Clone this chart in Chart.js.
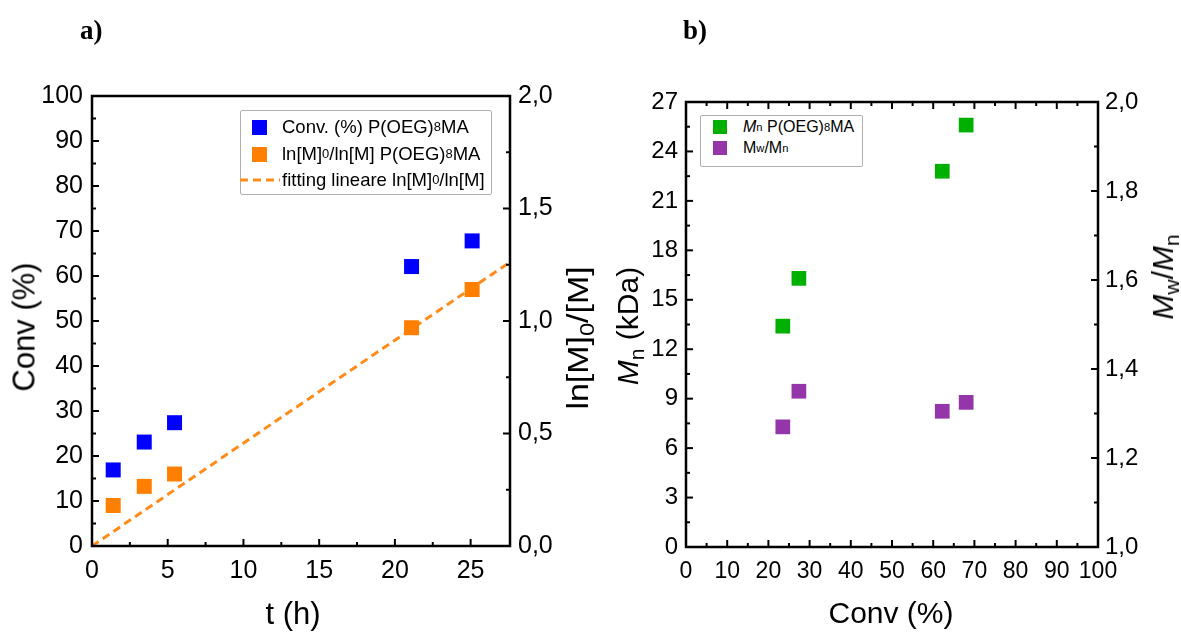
<!DOCTYPE html>
<html><head><meta charset="utf-8">
<script src="https://cdn.jsdelivr.net/npm/chart.js@4.4.0/dist/chart.umd.min.js"></script>
<style>
body{margin:0;background:#fff;width:1181px;height:634px;overflow:hidden;position:relative;font-family:"Liberation Sans",Arial,sans-serif;color:#000}
canvas{position:absolute;top:0}
.t{position:absolute;white-space:nowrap;line-height:1}
.rot{transform:translate(-50%,-50%) rotate(-90deg)}
.hc{transform:translate(-50%,-50%)}
sub{font-size:70%;vertical-align:-0.28em;line-height:0}
.panel{position:absolute;font-family:"Liberation Serif","Times New Roman",serif;font-weight:bold;font-size:27px;line-height:1}
.leg{position:absolute;border:1px solid #b0b0b0;border-radius:2px;background:#fff}
.row{position:absolute;display:flex;align-items:center;white-space:nowrap}
.mk{display:inline-block}
</style>
</head><body>
<canvas id="ca" width="590" height="634" style="left:0"></canvas>
<canvas id="cb" width="591" height="634" style="left:590px"></canvas>

<div class="panel" style="left:80px;top:17px">a)</div>
<div class="panel" style="left:683px;top:17px">b)</div>

<div class="t rot" style="left:24px;top:327px;font-size:31px">Conv (%)</div>
<div class="t hc" style="left:293px;top:613px;font-size:31px">t (h)</div>
<div class="t" style="left:578px;top:338px;font-size:30px;transform:translate(-50%,-50%) rotate(-90deg) scaleX(1.13)">ln[M]<sub>0</sub>/[M]</div>

<div class="t rot" style="left:628px;top:326px;font-size:30px"><i>M</i><sub>n</sub> (kDa)</div>
<div class="t hc" style="left:891px;top:613px;font-size:30px">Conv (%)</div>
<div class="t rot" style="left:1163px;top:277px;font-size:30px"><i>M</i><sub>w</sub>/<i>M</i><sub>n</sub></div>

<div class="leg" style="left:240px;top:110px;width:250px;height:83px"></div>
<div class="row" style="left:252px;top:117px;height:20px;font-size:18.5px"><span class="mk" style="width:15px;height:15px;background:#0000ff;margin-right:15px"></span>Conv. (%) P(OEG)<sub>8</sub>MA</div>
<div class="row" style="left:252px;top:144px;height:20px;font-size:18.5px"><span class="mk" style="width:15px;height:15px;background:#ff7f00;margin-right:15px"></span>ln[M]<sub>0</sub>/ln[M] P(OEG)<sub>8</sub>MA</div>
<div class="row" style="left:240px;top:170px;height:20px;font-size:18.5px"><svg width="42" height="6" style="margin-right:0px"><line x1="0" y1="3" x2="40" y2="3" stroke="#ff8c1a" stroke-width="3" stroke-dasharray="8,5"/></svg>fitting lineare ln[M]<sub>0</sub>/ln[M]</div>

<div class="leg" style="left:700px;top:115px;width:161px;height:50px"></div>
<div class="row" style="left:713px;top:117px;height:20px;font-size:16px"><span class="mk" style="width:14px;height:14px;background:#00b000;margin-right:16px"></span><i>M</i><sub>n</sub>&nbsp;P(OEG)<sub>8</sub>MA</div>
<div class="row" style="left:713px;top:138px;height:20px;font-size:16px"><span class="mk" style="width:14px;height:14px;background:#9436aa;margin-right:16px"></span>M<sub>w</sub>/M<sub>n</sub></div>

<script>
// ---- data panel a ----
const tHours   = [1.4, 3.45, 5.45, 21.1, 25.1];
const convA    = [16.9, 23.1, 27.4, 62.1, 67.8];
const lnRatio  = [0.18, 0.265, 0.32, 0.97, 1.14];
const fitT     = [0, 27.6];
const fitLn    = [0, 1.262];
// ---- data panel b ----
const convB      = [23.5, 27.4, 62.2, 68.0];
const mnKDa      = [13.4, 16.3, 22.8, 25.6];
const dispersity = [1.27, 1.35, 1.305, 1.325];
// ---- tick labels ----
const xTicksA  = [0, 5, 10, 15, 20, 25];
const yTicksA  = [0, 10, 20, 30, 40, 50, 60, 70, 80, 90, 100];
const y2TicksA = [0, 0.5, 1.0, 1.5, 2.0];
const xTicksB  = [0, 10, 20, 30, 40, 50, 60, 70, 80, 90, 100];
const yTicksB  = [0, 3, 6, 9, 12, 15, 18, 21, 24, 27];
const y2TicksB = [1.0, 1.2, 1.4, 1.6, 1.8, 2.0];

const mids = a => a.slice(1).map((v,i)=>(v+a[i])/2);
const comma = v => Number(v).toFixed(1).replace('.', ',');
const pts = (xs, ys) => xs.map((x,i)=>({x, y: ys[i]}));

const boxTicks = {
  id: 'boxTicks',
  afterDatasetsDraw(chart, args, o) {
    const ctx = chart.ctx, a = chart.chartArea;
    ctx.save();
    ctx.strokeStyle = '#000';
    ctx.lineWidth = 2;
    const tick = (id, v, len, side) => {
      const s = chart.scales[id];
      const p = s.getPixelForValue(v);
      ctx.beginPath();
      if (side === 'bottom') { ctx.moveTo(p, a.bottom); ctx.lineTo(p, a.bottom - len); }
      if (side === 'top')    { ctx.moveTo(p, a.top); ctx.lineTo(p, a.top + len); }
      if (side === 'left')   { ctx.moveTo(a.left, p); ctx.lineTo(a.left + len, p); }
      if (side === 'right')  { ctx.moveTo(a.right, p); ctx.lineTo(a.right - len, p); }
      ctx.stroke();
    };
    o.axes.forEach(ax => {
      ax.major.forEach(v => tick(ax.id, v, 7, ax.side));
      ax.minor.forEach(v => tick(ax.id, v, 4, ax.side));
    });
    ctx.lineWidth = 2.5;
    ctx.strokeRect(a.left, a.top, a.right - a.left, a.bottom - a.top);
    ctx.restore();
  }
};

const font = size => ({family: '"Liberation Sans", Arial, sans-serif', size});
function axis(pos, min, max, ticksArr, size, fit, fmt, pad) {
  return {
    type: 'linear', position: pos, min, max,
    afterBuildTicks: s => { s.ticks = ticksArr.map(v => ({value: v})); },
    afterFit: s => { if (pos === 'bottom') s.height = fit; else s.width = fit; },
    grid: {display: false, drawTicks: false},
    border: {display: false},
    ticks: {color: '#000', font: font(size), padding: pad, maxRotation: 0, autoSkip: false,
            callback: fmt || (v => String(v))}
  };
}
const baseOpts = {
  responsive: false, animation: false, events: [],
  plugins: {legend: {display: false}, tooltip: {enabled: false}},
};

new Chart(document.getElementById('ca'), {
  type: 'scatter',
  data: {datasets: [
    {data: pts(tHours, convA), yAxisID: 'y', pointStyle: 'rect', pointRadius: 10.6, backgroundColor: '#0000ff', borderWidth: 0},
    {data: pts(tHours, lnRatio), yAxisID: 'y2', pointStyle: 'rect', pointRadius: 10.6, backgroundColor: '#ff7f00', borderWidth: 0},
    {data: pts(fitT, fitLn), yAxisID: 'y2', showLine: true, pointRadius: 0, borderColor: '#ff8c1a', borderWidth: 3, borderDash: [8, 5]}
  ]},
  options: Object.assign({}, baseOpts, {
    layout: {padding: {top: 96, left: 0, right: 0, bottom: 0}, autoPadding: false},
    scales: {
      x: axis('bottom', 0, 27.6, xTicksA, 25, 88, null, 10),
      y: axis('left', 0, 100, yTicksA, 25, 92, null, 9),
      y2: axis('right', 0, 2, y2TicksA, 25, 80, comma, 8)
    },
    plugins: Object.assign({}, baseOpts.plugins, {boxTicks: {axes: [
      {id: 'x', side: 'bottom', major: xTicksA, minor: mids(xTicksA)},
      {id: 'y', side: 'left', major: yTicksA, minor: mids(yTicksA)},
      {id: 'y2', side: 'right', major: y2TicksA, minor: mids(y2TicksA)}
    ]}})
  }),
  plugins: [boxTicks]
});

new Chart(document.getElementById('cb'), {
  type: 'scatter',
  data: {datasets: [
    {data: pts(convB, mnKDa), yAxisID: 'y', pointStyle: 'rect', pointRadius: 10.4, backgroundColor: '#00b000', borderWidth: 0},
    {data: pts(convB, dispersity), yAxisID: 'y2', pointStyle: 'rect', pointRadius: 10.4, backgroundColor: '#9436aa', borderWidth: 0}
  ]},
  options: Object.assign({}, baseOpts, {
    layout: {padding: {top: 102, left: 0, right: 0, bottom: 0}, autoPadding: false},
    scales: {
      x: axis('bottom', 0, 100, xTicksB, 23, 87, null, 11),
      y: axis('left', 0, 27, yTicksB, 24, 96, null, 8),
      y2: axis('right', 1, 2, y2TicksB, 24, 83, comma, 7)
    },
    plugins: Object.assign({}, baseOpts.plugins, {boxTicks: {axes: [
      {id: 'x', side: 'bottom', major: xTicksB, minor: mids(xTicksB)},
      {id: 'x', side: 'top', major: xTicksB, minor: mids(xTicksB)},
      {id: 'y', side: 'left', major: yTicksB, minor: mids(yTicksB)},
      {id: 'y2', side: 'right', major: y2TicksB, minor: mids(y2TicksB)}
    ]}})
  }),
  plugins: [boxTicks]
});
</script>
</body></html>
